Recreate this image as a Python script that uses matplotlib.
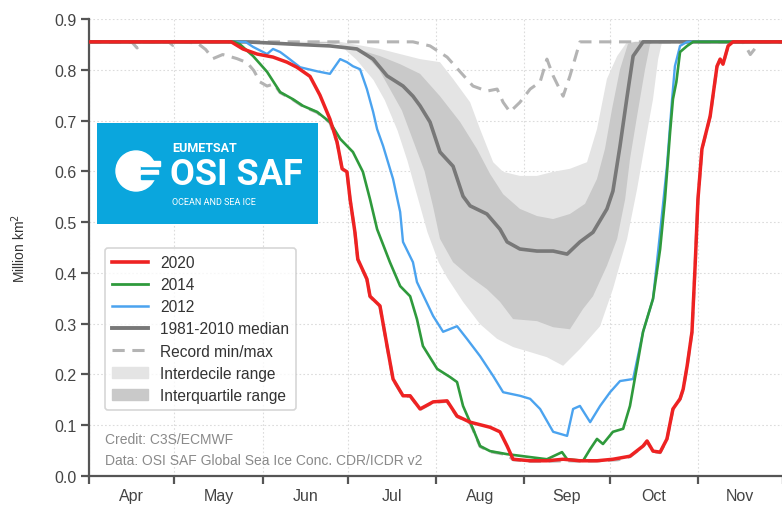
import numpy as np
import matplotlib.pyplot as plt
from matplotlib.lines import Line2D
from matplotlib.patches import Patch, Circle, Rectangle

# days counted from 1 April, values in million km2
months = ["Apr", "May", "Jun", "Jul", "Aug", "Sep", "Oct", "Nov"]
month_starts = [0, 30, 61, 91, 122, 153, 183, 214, 244]

d2020 = [0, 50, 54.1, 59.1, 64.7, 69.6, 73.1, 77.7, 81.2, 84.7, 87.2, 89, 90.7, 91.8,
         93.5, 94.5, 97.7, 98.8, 102.3, 104.8, 106.9, 110.4, 112.9, 116.4, 121, 125.9,
         129.4, 134, 141, 144.5, 147, 149.1, 155.1, 161, 166.7, 172.6, 178.6, 184.2,
         190.2, 194.8, 196.2, 198.3, 200.8, 203.2, 205.3, 207.8, 208.9, 210.3, 212,
         213.1, 214.1, 215.5, 218.4, 220.8, 221.9, 222.9, 224.7, 226.4, 244]
v2020 = [0.855, 0.855, 0.841, 0.831, 0.825, 0.815, 0.805, 0.787, 0.750, 0.703, 0.658,
         0.605, 0.599, 0.545, 0.480, 0.427, 0.388, 0.354, 0.335, 0.256, 0.191, 0.158,
         0.158, 0.132, 0.146, 0.148, 0.118, 0.106, 0.096, 0.087, 0.059, 0.033, 0.030,
         0.030, 0.033, 0.030, 0.030, 0.033, 0.039, 0.059, 0.069, 0.049, 0.047, 0.073,
         0.132, 0.152, 0.171, 0.217, 0.284, 0.414, 0.545, 0.644, 0.709, 0.807, 0.821,
         0.811, 0.847, 0.855, 0.855]

d2014 = [0, 51, 53.1, 57.7, 62.6, 67.2, 71.7, 75.2, 80.2, 84.7, 88.3, 92.8, 96.3, 98.8,
         101.3, 105.8, 109.4, 112.9, 115.3, 117.4, 122.4, 126.9, 129.4, 131.5, 135, 137.5,
         141, 147, 152.6, 161, 166.3, 168.1, 173.7, 176.2, 178.6, 180.7, 184.2, 187.8,
         190.2, 192.7, 194.8, 198.3, 200.8, 202.5, 204.3, 205.3, 206.5, 207.8, 210.3,
         212.4, 244]
v2014 = [0.855, 0.855, 0.850, 0.827, 0.796, 0.756, 0.742, 0.729, 0.717, 0.697, 0.664,
         0.638, 0.599, 0.545, 0.486, 0.421, 0.374, 0.354, 0.309, 0.256, 0.211, 0.195,
         0.185, 0.138, 0.093, 0.059, 0.049, 0.043, 0.039, 0.033, 0.047, 0.033, 0.030,
         0.053, 0.073, 0.063, 0.087, 0.093, 0.138, 0.217, 0.284, 0.349, 0.447, 0.545,
         0.677, 0.742, 0.776, 0.835, 0.847, 0.855, 0.855]

d2012 = [0, 55, 57.7, 62.6, 64.7, 67.2, 69.6, 74.2, 80.2, 84.7, 85.8, 88.3, 90.7, 92.8,
         95.3, 97.7, 99.9, 101.3, 103.4, 106.9, 109.4, 110.4, 113.9, 115.3, 121, 124.5,
         129.4, 132.9, 137.5, 142.1, 145.6, 151.5, 155.1, 158.6, 163.2, 168.1, 170.2,
         172.6, 176.2, 179.7, 183.2, 186.7, 191.3, 194.8, 198.3, 200.8, 203.2, 205,
         206, 207.8, 210.3, 244]
v2012 = [0.855, 0.855, 0.845, 0.831, 0.841, 0.835, 0.825, 0.805, 0.797, 0.792, 0.801,
         0.821, 0.815, 0.807, 0.801, 0.762, 0.717, 0.683, 0.650, 0.585, 0.520, 0.461,
         0.421, 0.382, 0.315, 0.284, 0.295, 0.270, 0.236, 0.197, 0.165, 0.158, 0.152,
         0.132, 0.087, 0.079, 0.132, 0.138, 0.106, 0.138, 0.165, 0.187, 0.191, 0.284,
         0.349, 0.480, 0.610, 0.742, 0.807, 0.847, 0.855, 0.855]

dmed = [0, 55, 62.6, 73, 84.7, 94.2, 99.9, 104.8, 110.4, 113.9, 116.4, 119.9, 123.4,
        128, 131.5, 134, 139.9, 144.5, 147, 151.5, 157.5, 163.2, 168.1, 172.6, 177.2,
        182.1, 184.2, 186.7, 189.2, 191.3, 194.8, 244]
vmed = [0.855, 0.855, 0.853, 0.850, 0.847, 0.841, 0.821, 0.788, 0.768, 0.748, 0.729,
        0.697, 0.638, 0.610, 0.551, 0.532, 0.516, 0.486, 0.461, 0.447, 0.443, 0.443,
        0.437, 0.461, 0.480, 0.526, 0.561, 0.650, 0.748, 0.827, 0.855, 0.855]

# percentile edges
d_p10 = [0, 81, 88, 94, 100, 104, 108.5, 112, 116, 119, 123, 126, 131.5, 137.5, 143.5,
         149.1, 155.1, 161, 166.7, 172.6, 179.7, 184.2, 189.2, 192.7, 196.2, 198.3,
         200.1, 201.5, 244]
v_p10 = [0.855, 0.855, 0.850, 0.820, 0.780, 0.740, 0.680, 0.620, 0.540, 0.480, 0.420,
         0.390, 0.343, 0.299, 0.270, 0.254, 0.244, 0.234, 0.217, 0.250, 0.295, 0.368,
         0.467, 0.565, 0.677, 0.742, 0.821, 0.855, 0.855]
d_p25 = [0, 85, 92, 97, 102, 106, 110, 114, 118, 121, 123.4, 128, 134, 139.9, 144.5,
         149.1, 157.5, 163.2, 169.1, 173.7, 177.2, 182.1, 185.7, 188.5, 190.2, 192.7,
         195.5, 197.3, 199, 244]
v_p25 = [0.855, 0.855, 0.845, 0.830, 0.800, 0.760, 0.720, 0.660, 0.600, 0.530, 0.467,
         0.421, 0.392, 0.368, 0.343, 0.309, 0.305, 0.293, 0.289, 0.329, 0.354, 0.414,
         0.467, 0.545, 0.624, 0.709, 0.801, 0.851, 0.855, 0.855]
d_p75 = [0, 70.7, 88.3, 102.3, 109.4, 116.4, 123.4, 130.5, 136.4, 141, 145.6, 151.5,
         157.5, 163.2, 169.1, 174.4, 178.6, 181.4, 183.9, 186.7, 189.5, 192, 244]
v_p75 = [0.855, 0.855, 0.851, 0.827, 0.811, 0.792, 0.748, 0.697, 0.644, 0.595, 0.555,
         0.526, 0.512, 0.506, 0.516, 0.536, 0.585, 0.644, 0.723, 0.801, 0.851, 0.855,
         0.855]
d_p90 = [0, 88.3, 102.3, 116.4, 123.4, 128, 134, 137.5, 142.1, 145.6, 151.5, 157.5,
         163.2, 169.1, 175.1, 178.6, 182.1, 185.7, 189.2, 244]
v_p90 = [0.855, 0.855, 0.841, 0.821, 0.815, 0.782, 0.736, 0.683, 0.618, 0.599, 0.591,
         0.591, 0.599, 0.605, 0.618, 0.683, 0.782, 0.827, 0.855, 0.855]

d_rmax = [0, 113.9, 119.9, 125.9, 130.5, 135, 139.9, 143.5, 145.6, 148, 151.5, 155.1,
          158.6, 161, 163.2, 166.7, 169.1, 172.6, 244]
v_rmax = [0.855, 0.855, 0.847, 0.825, 0.796, 0.768, 0.758, 0.762, 0.736, 0.717, 0.736,
          0.762, 0.776, 0.821, 0.788, 0.748, 0.788, 0.855, 0.855]
d_rmin = [0, 15, 16.9, 18.5, 28, 29.5, 31, 38, 41, 43.6, 47, 49.6, 52, 55.6, 58, 60.1,
          62.6, 65, 67.2, 71.7, 75.2, 80.2, 84.7, 87.2, 89, 90.7, 91.8, 93.5, 94.5, 97.7,
          98.8, 102.3, 104.8, 106.9, 110.4, 112.9, 116.4, 121, 125.9, 129.4, 131.5, 134,
          135, 137.5, 141, 147, 149.1, 155, 161, 168, 173.7, 180, 186, 190.2, 194.8,
          196.2, 198.3, 200.8, 203.2, 205.3, 207.8, 208.9, 210.3, 212, 213.1, 214.1,
          215.5, 218.4, 220.8, 221.9, 222.9, 224.7, 226.4, 230, 232.5, 236, 244]
v_rmin = [0.855, 0.855, 0.843, 0.855, 0.855, 0.848, 0.855, 0.853, 0.840, 0.822, 0.830,
          0.826, 0.822, 0.814, 0.798, 0.776, 0.768, 0.772, 0.755, 0.741, 0.728, 0.716,
          0.696, 0.657, 0.604, 0.598, 0.544, 0.479, 0.426, 0.387, 0.353, 0.334, 0.255,
          0.190, 0.157, 0.157, 0.131, 0.145, 0.147, 0.117, 0.112, 0.104, 0.092, 0.058,
          0.048, 0.042, 0.032, 0.029, 0.029, 0.030, 0.029, 0.030, 0.032, 0.038, 0.058,
          0.068, 0.048, 0.046, 0.072, 0.131, 0.151, 0.170, 0.216, 0.283, 0.413, 0.544,
          0.643, 0.708, 0.806, 0.820, 0.810, 0.846, 0.854, 0.855, 0.830, 0.855, 0.855]

tick_font = ["Liberation Sans Narrow", "Liberation Sans", "DejaVu Sans"]
text_font = ["Liberation Sans", "DejaVu Sans"]
plt.rcParams["font.family"] = text_font

fig = plt.figure(figsize=(7.82, 5.10), dpi=100)
ax = fig.add_axes([89 / 782, 33 / 510, 694 / 782, 457 / 510])

c_decile = "#e4e4e4"
c_quart = "#c9c9c9"
ax.fill(np.concatenate([d_p10, d_p90[::-1]]), np.concatenate([v_p10, v_p90[::-1]]),
        color=c_decile, lw=0, zorder=1)
ax.fill(np.concatenate([d_p25, d_p75[::-1]]), np.concatenate([v_p25, v_p75[::-1]]),
        color=c_quart, lw=0, zorder=1.1)

dash_kw = dict(color="#b4b4b4", lw=2.2, dashes=(4, 2.5), zorder=2)
ax.plot(d_rmax, v_rmax, **dash_kw)
ax.plot(d_rmin, v_rmin, **dash_kw)
ax.plot(dmed, vmed, color="#787878", lw=2.6, zorder=3)
ax.plot(d2012, v2012, color="#4ba3ef", lw=1.7, zorder=4)
ax.plot(d2014, v2014, color="#2f9a3c", lw=1.9, zorder=5)
ax.plot(d2020, v2020, color="#ee2222", lw=2.5, zorder=6)

ax.set_xlim(0, 244)
ax.set_ylim(0, 0.9)
ax.set_xticks(month_starts)
ax.set_xticklabels([])
ax.set_xticks([(a + b) / 2 for a, b in zip(month_starts[:-1], month_starts[1:])], minor=True)
ax.set_xticklabels(months, minor=True, fontfamily=tick_font, fontsize=11.5, color="#444444")
ax.tick_params(axis="x", which="minor", length=0, pad=9)
ax.set_yticks(np.arange(0, 0.91, 0.1))
ax.set_yticklabels([f"{v:.1f}" for v in np.arange(0, 0.91, 0.1)],
                   fontfamily=tick_font, fontsize=11.5, color="#444444")
ax.tick_params(axis="both", which="major", direction="out", length=6, width=1.6,
               color="#555555")
ax.tick_params(axis="y", pad=3)
for s in ["top", "right"]:
    ax.spines[s].set_visible(False)
for s in ["left", "bottom"]:
    ax.spines[s].set_color("#555555")
    ax.spines[s].set_linewidth(1.6)
ax.grid(True, which="major", color="#dcdcdc", linestyle=(0, (1.5, 2)), lw=0.8)
ax.set_axisbelow(True)
ax.set_ylabel("Million km$^2$", fontsize=10, color="#333333")
ax.yaxis.set_label_coords(-0.088, 0.5)

handles = [
    Line2D([], [], color="#ee2222", lw=2.6),
    Line2D([], [], color="#2f9a3c", lw=2.0),
    Line2D([], [], color="#4ba3ef", lw=1.8),
    Line2D([], [], color="#787878", lw=2.8),
    Line2D([], [], color="#b4b4b4", lw=2.2, dashes=(4, 2.5)),
    Patch(color=c_decile),
    Patch(color=c_quart),
]
labels = ["2020", "2014", "2012", "1981-2010 median", "Record min/max",
          "Interdecile range", "Interquartile range"]
leg = ax.legend(handles, labels, loc="upper left", bbox_to_anchor=(0.023, 0.499),
                borderaxespad=0, fontsize=11.2, handlelength=2.3, handletextpad=0.8,
                labelspacing=0.46, borderpad=0.45, frameon=True, fancybox=True)
leg.get_frame().set_edgecolor("#cccccc")
leg.get_frame().set_linewidth(1.2)
for t in leg.get_texts():
    t.set_color("#333333")
leg.set_zorder(10)

ax.text(0.023, 0.081, "Credit: C3S/ECMWF", transform=ax.transAxes, fontsize=10,
        color="#8a8a8a", va="center", zorder=10)
ax.text(0.023, 0.035, "Data: OSI SAF Global Sea Ice Conc. CDR/ICDR v2",
        transform=ax.transAxes, fontsize=10, color="#8a8a8a", va="center", zorder=10)

# logo box
lg = fig.add_axes([97 / 782, (510 - 225) / 510, 221 / 782, 101 / 510])
lg.set_xlim(0, 221)
lg.set_ylim(101, 0)
lg.set_facecolor("#0aa6dd")
for s in lg.spines.values():
    s.set_visible(False)
lg.set_xticks([])
lg.set_yticks([])
lg.add_patch(Circle((39, 48), 20, color="white"))
lg.add_patch(Rectangle((44, 43), 20, 4, color="#0aa6dd"))
lg.add_patch(Rectangle((44, 38), 19, 5, color="white"))
lg.add_patch(Rectangle((44, 47), 17, 5, color="white"))
lg.add_patch(Rectangle((44, 52), 20, 4, color="#0aa6dd"))
lg.text(75, 25, "EUMETSAT", fontsize=9, fontweight="bold", color="white",
        va="center", ha="left", family=["Roboto", "DejaVu Sans"])
lg.text(73, 51, "OSI SAF", fontsize=26, fontweight="bold", color="white",
        va="center", ha="left", family=["Roboto", "DejaVu Sans"])
lg.text(75, 79, "OCEAN AND SEA ICE", fontsize=6.5, color="white",
        va="center", ha="left", family=["Roboto", "DejaVu Sans"])

fig.savefig("out.png", dpi=100)
